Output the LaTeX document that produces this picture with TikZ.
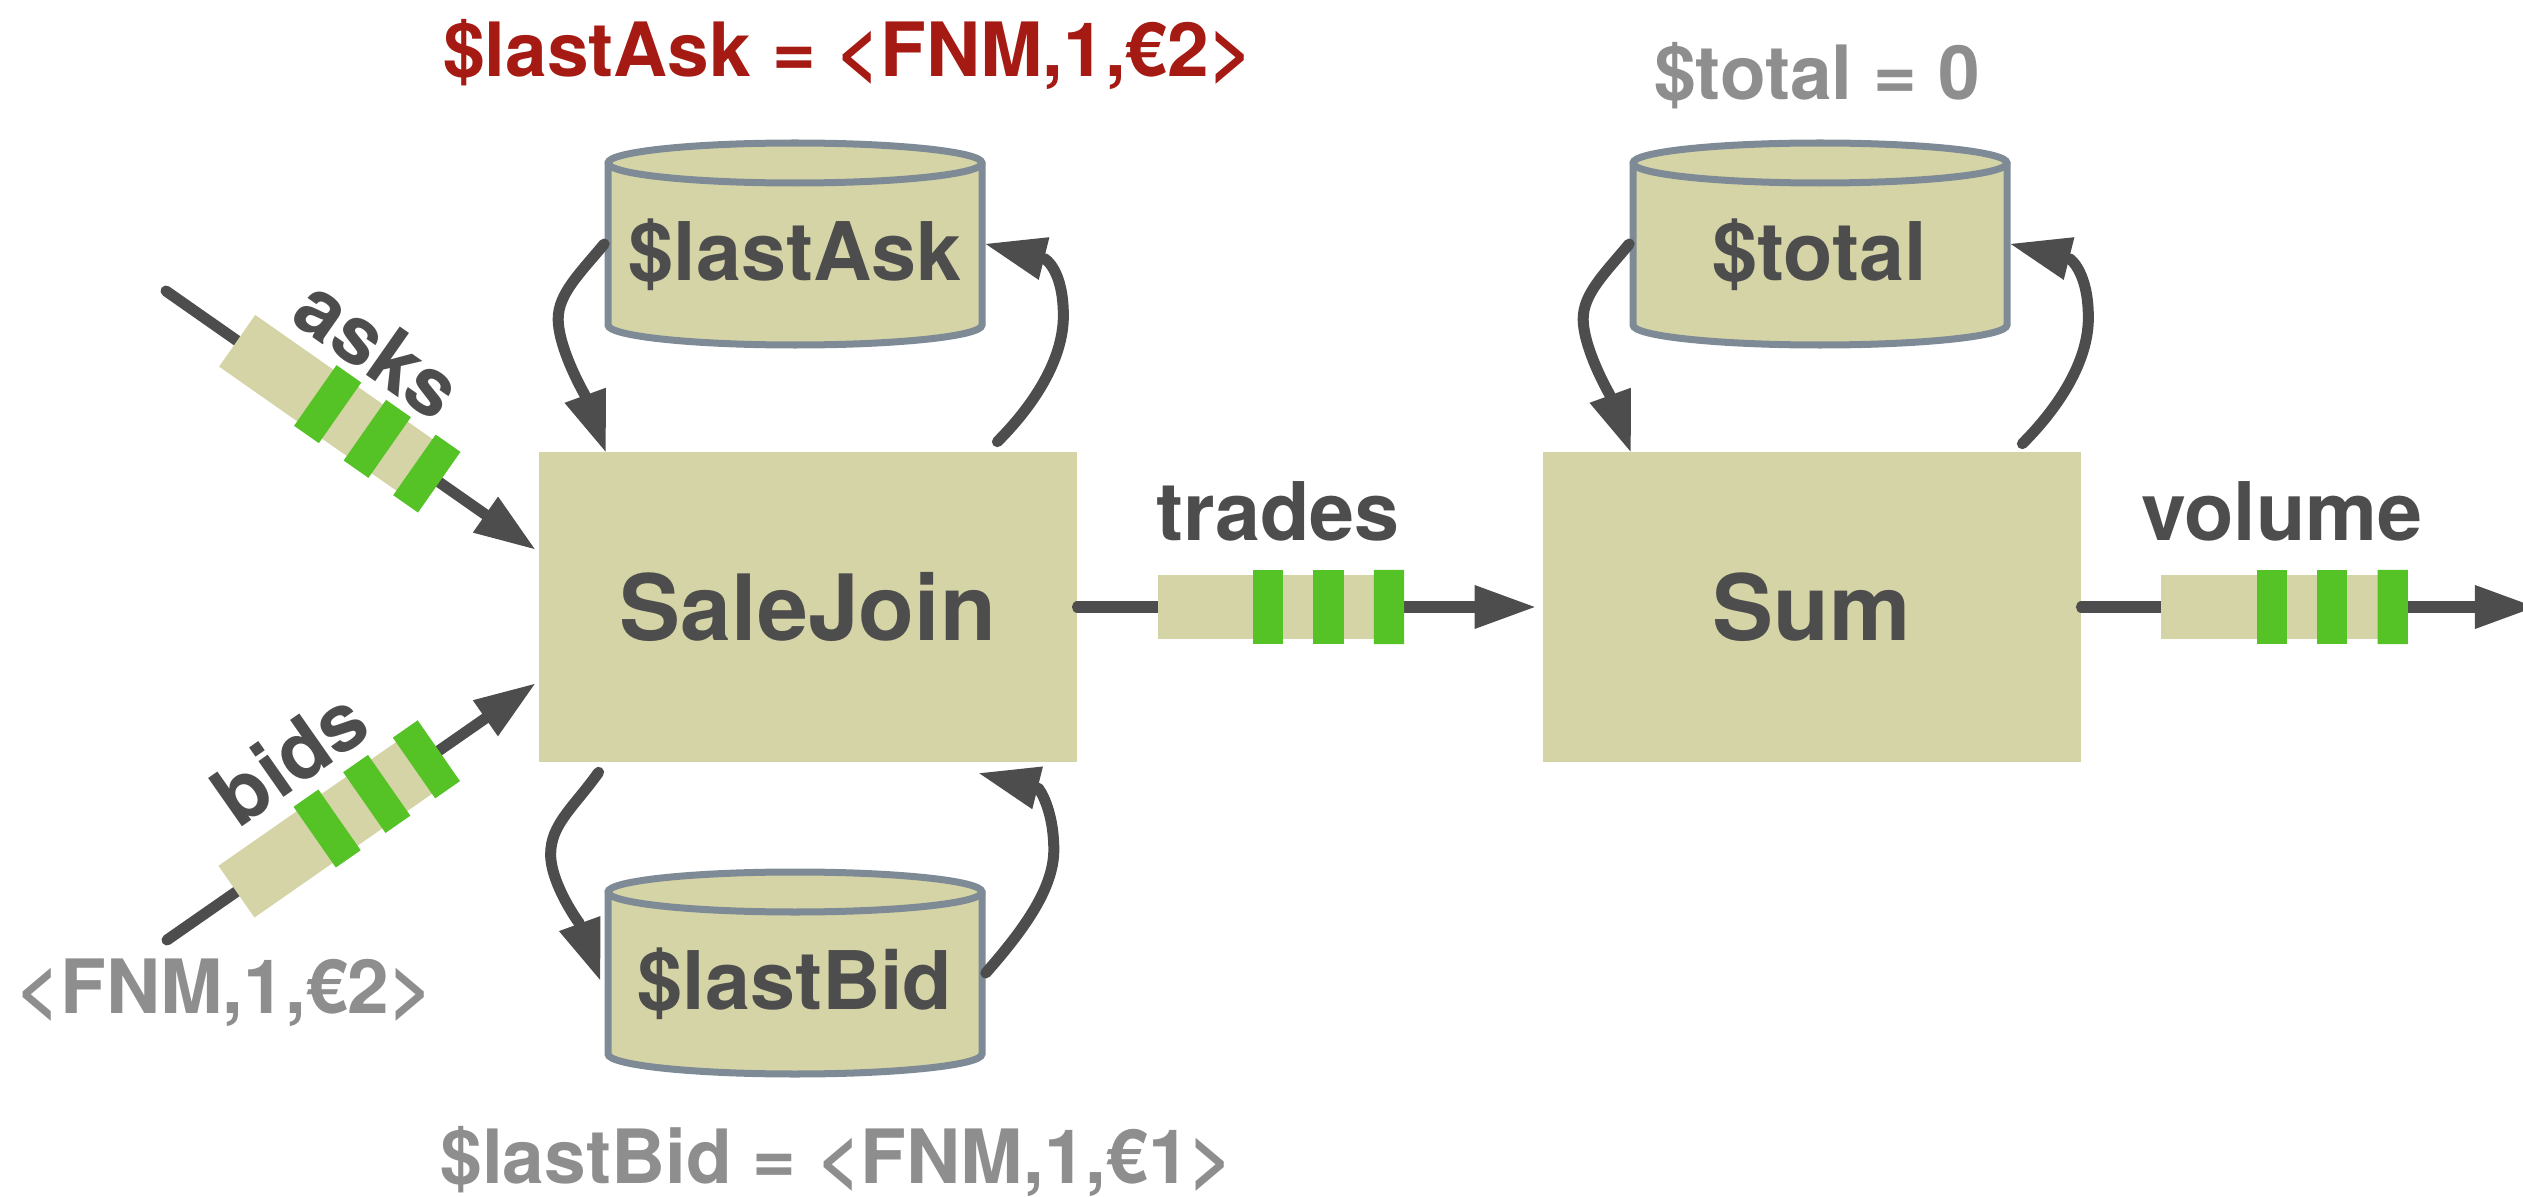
\documentclass[tikz,border=0pt]{standalone}
\usepackage{fontspec}
\setmainfont{TeX Gyre Heros}
\usetikzlibrary{shapes,arrows.meta,calc}

\definecolor{opfill}{HTML}{D5D4A6}
\definecolor{bandgreen}{HTML}{55C225}
\definecolor{ink}{HTML}{4D4D4D}
\definecolor{drumedge}{HTML}{7E8B96}
\definecolor{hotred}{HTML}{A51B14}
\definecolor{oldgray}{HTML}{8E8E8E}

\tikzset{drum/.pic={
  \filldraw[fill=opfill, draw=drumedge, line width=0.07cm] (-187,81) -- (-187,-81)
    arc[start angle=180, end angle=360, x radius=187, y radius=20] -- (187,81)
    arc[start angle=0, end angle=180, x radius=187, y radius=20] -- cycle;
  \draw[drumedge, line width=0.07cm] (-187,81) arc[start angle=180, end angle=360, x radius=187, y radius=20];
}}

% three green bands on a stream node
\newcommand\greenbands[1]{%
  \foreach \a/\b in {0.40/0.52, 0.64/0.76, 0.88/1.0}
    \fill[bandgreen] ($(#1.south west)!\a!(#1.south east)$) -- ($(#1.south west)!\b!(#1.south east)$)
      -- ($(#1.north west)!\b!(#1.north east)$) -- ($(#1.north west)!\a!(#1.north east)$) -- cycle;
}

\begin{document}
\begin{tikzpicture}[x=0.01cm, y=0.01cm, line cap=round]% 1 unit = 1 px
\useasboundingbox (0,0) rectangle (2523,-1197);
\tikzstyle{op}=[rectangle, fill=opfill, minimum width=5.37cm, minimum height=3.09cm, inner sep=0pt, text=ink, font=\fontsize{26}{30}\selectfont\bfseries]
\tikzstyle{store}=[rectangle, minimum width=3.8cm, minimum height=2.1cm, inner sep=0pt, text=ink, text height=25.5pt, text depth=4.6pt, font=\fontsize{23}{27}\selectfont\bfseries]
\tikzstyle{stream}=[rectangle, fill=opfill, minimum width=2.41cm, minimum height=0.63cm, inner sep=0pt]
\tikzstyle{flow}=[draw=ink, line width=0.11cm, -{Triangle[length=0.6cm, width=0.44cm, line width=0pt]}]
\tikzstyle{tag}=[text=ink, inner sep=0pt, font=\fontsize{23}{27}\selectfont\bfseries]
\tikzstyle{note}=[inner sep=0pt, anchor=base, font=\fontsize{21.3}{25}\selectfont\bfseries]

% operators
\node[op] (join) at (808,-607) {SaleJoin};
\node[op] (sum) at (1812,-607) {Sum};

% state stores
\pic at (795,-244) {drum};
\node[store] (ask) at (795,-244) {\$lastAsk};
\pic at (795,-973) {drum};
\node[store] (bid) at (795,-973) {\$lastBid};
\pic at (1820,-244) {drum};
\node[store] (total) at (1820,-244) {\$total};

\node[note, text=hotred] (askval) at (848,-77) {\$lastAsk = <FNM,1,€2>};
\node[note, text=oldgray] (totalval) at (1817,-100) {\$total = 0};
\node[note, text=oldgray] (bidval) at (837,-1183) {\$lastBid = <FNM,1,€1>};
\node[note, text=oldgray] (bidinval) at (225,-1013) {<FNM,1,€2>};

% input streams
\coordinate (askin) at (166,-291);
\coordinate (bidin) at (167,-940);
\draw[flow] (askin) -- node[stream, sloped, pos=0.461] (asksq) {} ([shift={(-4,58)}]join.west);
\draw[flow] (bidin) -- node[stream, sloped, pos=0.458] (bidsq) {} ([shift={(-4,-77)}]join.west);
\greenbands{asksq}
\greenbands{bidsq}
\node[tag, rotate=-35] (asklbl) at ($(asksq.center)!0.75cm!(asksq.north)$) {asks};
\node[tag, rotate=35] (bidlbl) at ($(bidsq.center)!0.8cm!(bidsq.north)$) {bids};

% output streams
\coordinate (volout) at (2535,-607);
\draw[flow] (join.east) -- node[stream, pos=0.439] (tradesq) {} ([xshift=-0.08cm]sum.west);
\draw[flow] (sum.east) -- node[stream, pos=0.442] (volsq) {} (volout);
\greenbands{tradesq}
\greenbands{volsq}
\node[tag, anchor=base] (tradeslbl) at ([yshift=0.29cm]tradesq.north) {trades};
\node[tag, anchor=base] (vollbl) at ([yshift=0.29cm]volsq.north) {volume};

% state loops
\draw[flow] (ask.west) .. controls +(-25,-30) and +(0,25) .. ++(-46,-75)
  .. controls +(0,-30) and +(-20,55) .. ([xshift=0.67cm]join.north west);
\draw[flow] ([shift={(-80,10)}]join.north east) .. controls +(35,35) and +(0,-45) .. ++(66,126)
  .. controls +(0,45) and +(60,-15) .. (ask.east);
\draw[flow] ([shift={(60,-10)}]join.south west) .. controls +(-25,-35) and +(0,30) .. ++(-48,-82)
  .. controls +(0,-30) and +(-20,55) .. ([shift={(-4,-7)}]bid.west);
\draw[flow] (bid.east) .. controls +(35,40) and +(0,-40) .. ++(68,123)
  .. controls +(0,40) and +(60,-15) .. ([shift={(-98,-11)}]join.south east);
\draw[flow] (total.west) .. controls +(-25,-30) and +(0,25) .. ++(-46,-75)
  .. controls +(0,-30) and +(-20,55) .. ([xshift=0.88cm]sum.north west);
\draw[flow] ([shift={(-59,8)}]sum.north east) .. controls +(35,35) and +(0,-45) .. ++(66,126)
  .. controls +(0,45) and +(60,-15) .. (total.east);

\end{tikzpicture}
\end{document}
